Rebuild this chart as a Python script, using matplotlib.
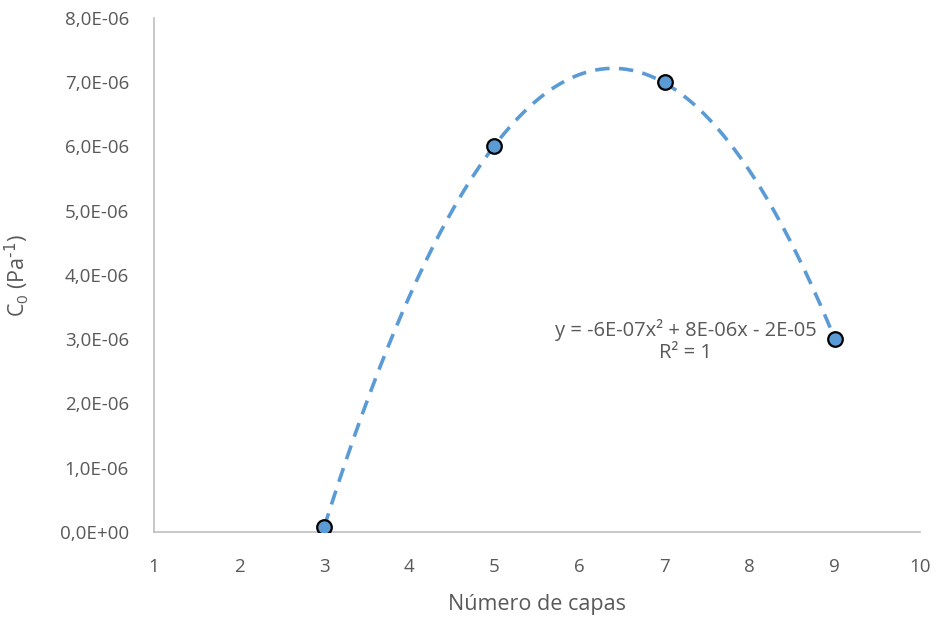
import numpy as np
import matplotlib
matplotlib.use("Agg")
import matplotlib.pyplot as plt
from matplotlib.ticker import FuncFormatter, MultipleLocator

# layers vs compliance C0
capas = [3, 5, 7, 9]
c0 = [0.08e-6, 6.0e-6, 7.0e-6, 3.0e-6]

blue = "#5B9BD5"
grey = "#595959"

plt.rcParams['font.family'] = ['Open Sans', 'DejaVu Sans']

fig = plt.figure(figsize=(9.4, 6.22), dpi=100)
ax = fig.add_axes([0.1638, 0.1447, 0.8149, 0.8264])

# 2nd order polynomial trendline
coef = np.polyfit(capas, c0, 2)
xs = np.linspace(min(capas), max(capas), 200)
ax.plot(xs, np.polyval(coef, xs), color=blue, lw=2.6, dashes=(4, 2.6), zorder=2)
ax.plot(capas, c0, 'o', ms=10.5, mfc=blue, mec='black', mew=1.6, zorder=3)

ax.text(7.25, 2.97e-6, "y = -6E-07x² + 8E-06x - 2E-05\nR² = 1", ha='center', va='center',
        fontsize=14.5, color=grey, linespacing=1.15)

ax.set_xlim(1, 10)
ax.set_ylim(0, 8e-6)
ax.xaxis.set_major_locator(MultipleLocator(1))
ax.yaxis.set_major_locator(MultipleLocator(1e-6))
ax.yaxis.set_major_formatter(FuncFormatter(lambda v, p: f"{v:.1E}".replace('.', ',')))

for s in ['top', 'right']:
    ax.spines[s].set_visible(False)
for s in ['left', 'bottom']:
    ax.spines[s].set_color('#BFBFBF')
    ax.spines[s].set_linewidth(1.2)
ax.tick_params(length=0, labelsize=13.5, labelcolor=grey)
ax.tick_params(axis='y', pad=18)
ax.tick_params(axis='x', pad=19)

ax.set_xlabel("Número de capas", fontsize=15.5, color=grey, labelpad=13)
ax.set_ylabel(r"C$_\mathregular{0}$ (Pa$^{\text{-1}}$)", fontsize=15.5, color=grey, labelpad=21)

fig.savefig("out.png", dpi=100)
